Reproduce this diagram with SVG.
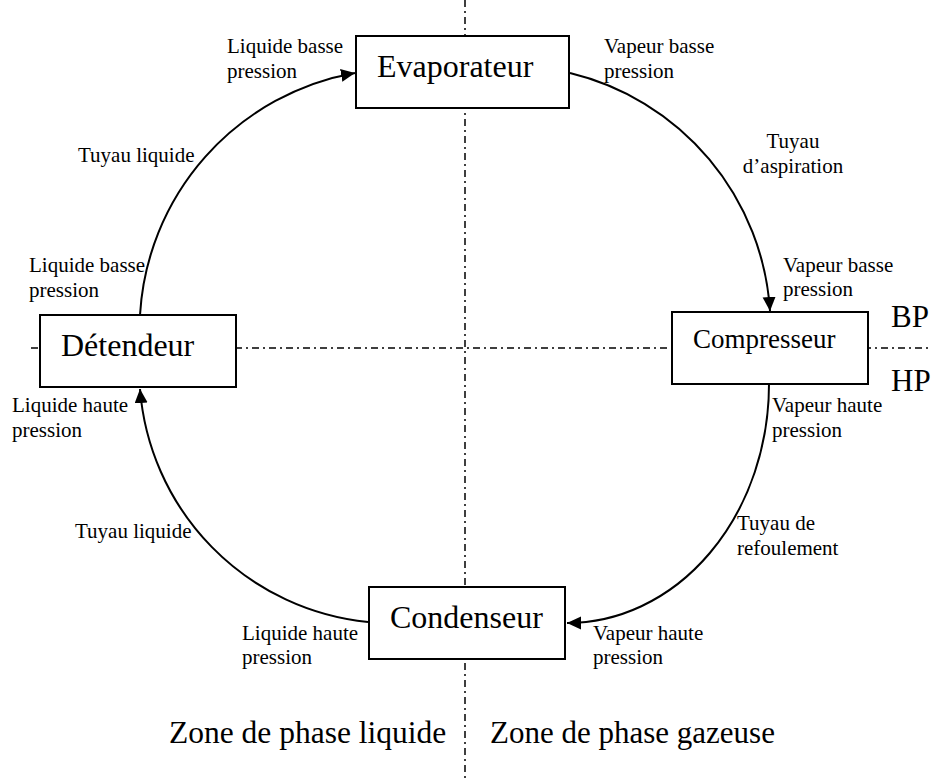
<svg xmlns="http://www.w3.org/2000/svg" width="931" height="778" viewBox="0 0 931 778">
  <style>
    .axis { fill: none; stroke: #000; stroke-width: 1.5; stroke-dasharray: 7 4 2 4; }
    .box { fill: #fff; stroke: #000; stroke-width: 2; }
    .pipe { fill: none; stroke: #000; stroke-width: 2; }
    .big { font-family: "Liberation Serif", "Times New Roman", serif; font-size: 32px; fill: #000; }
    .small { font-family: "Liberation Serif", "Times New Roman", serif; font-size: 21px; fill: #000; }
  </style>
  <defs>
    <marker id="arrow" markerUnits="userSpaceOnUse" markerWidth="16" markerHeight="14" refX="14" refY="6.5" orient="auto">
      <path d="M0,0 L14,6.5 L0,13 z" fill="#000"/>
    </marker>
  </defs>

  <rect width="931" height="778" fill="#fff"/>

  <!-- BP / HP and liquid / gas separation axes -->
  <g id="axes">
    <line class="axis" x1="31" y1="348" x2="931" y2="348"/>
    <line class="axis" x1="465" y1="0" x2="465" y2="778"/>
  </g>

  <!-- refrigerant piping -->
  <g id="connectors">
    <path class="pipe" d="M140,315 A261,261 0 0 1 355,73" marker-end="url(#arrow)"/>
    <path class="pipe" d="M570,73 A262,262 0 0 1 770,311" marker-end="url(#arrow)"/>
    <path class="pipe" d="M769,384 A202,239 0 0 1 567,623" marker-end="url(#arrow)"/>
    <path class="pipe" d="M368,622 A254,254 0 0 1 140,389" marker-end="url(#arrow)"/>
  </g>

  <g id="evaporateur">
    <rect class="box" x="356" y="36" width="213" height="72"/>
    <text class="big" x="377" y="77">Evaporateur</text>
  </g>

  <g id="compresseur">
    <rect class="box" x="672" y="312" width="196" height="72"/>
    <text class="big" x="693" y="348" style="font-size:27px">Compresseur</text>
  </g>

  <g id="condenseur">
    <rect class="box" x="369" y="587" width="196" height="72"/>
    <text class="big" x="390" y="628">Condenseur</text>
  </g>

  <g id="detendeur">
    <rect class="box" x="40" y="315" width="196" height="72"/>
    <text class="big" x="61" y="356">Détendeur</text>
  </g>

  <!-- state and pipe labels -->
  <g id="labels">
    <text class="small" x="227" y="53">Liquide basse<tspan x="227" dy="25">pression</tspan></text>
    <text class="small" x="604" y="53">Vapeur basse<tspan x="604" dy="25">pression</tspan></text>
    <text class="small" x="78" y="162">Tuyau liquide</text>
    <text class="small" x="793" y="148" text-anchor="middle">Tuyau<tspan x="793" dy="25">d’aspiration</tspan></text>
    <text class="small" x="783" y="272">Vapeur basse<tspan x="783" dy="24">pression</tspan></text>
    <text class="small" x="29" y="272">Liquide basse<tspan x="29" dy="25">pression</tspan></text>
    <text class="small" x="772" y="412">Vapeur haute<tspan x="772" dy="25">pression</tspan></text>
    <text class="small" x="12" y="412">Liquide haute<tspan x="12" dy="25">pression</tspan></text>
    <text class="small" x="737" y="530">Tuyau de<tspan x="737" dy="25">refoulement</tspan></text>
    <text class="small" x="75" y="538">Tuyau liquide</text>
    <text class="small" x="242" y="640">Liquide haute<tspan x="242" dy="24">pression</tspan></text>
    <text class="small" x="593" y="640">Vapeur haute<tspan x="593" dy="24">pression</tspan></text>
  </g>

  <g id="zones">
    <text class="big" x="891" y="327" style="font-size:31px">BP</text>
    <text class="big" x="891" y="391" style="font-size:31px">HP</text>
    <text class="big" x="169" y="743" style="font-size:31.5px">Zone de phase liquide</text>
    <text class="big" x="490" y="743" style="font-size:31px">Zone de phase gazeuse</text>
  </g>
</svg>
